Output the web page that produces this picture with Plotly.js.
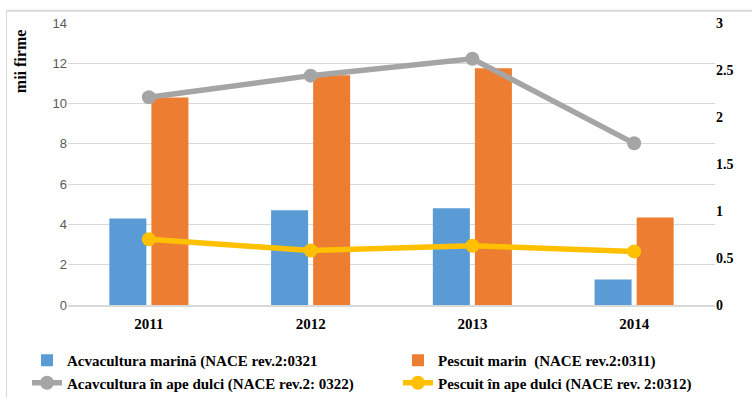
<!DOCTYPE html>
<html>
<head>
<meta charset="utf-8">
<script src="https://cdn.plot.ly/plotly-3.0.1.min.js"></script>
<style>html,body{margin:0;padding:0;background:#fff;}#chart{width:752px;height:401px;}</style>
</head>
<body>
<div id="chart"></div>
<script>
const years = ['2011', '2012', '2013', '2014'];
const acvaculturaMarina = [4.3, 4.7, 4.8, 1.27];
const pescuitMarin = [10.3, 11.4, 11.75, 4.35];
const acvaculturaApeDulci = [2.21, 2.44, 2.62, 1.72];
const pescuitApeDulci = [0.70, 0.58, 0.63, 0.57];
const leftTicks = [0, 2, 4, 6, 8, 10, 12, 14];
const rightTicks = [0, 0.5, 1, 1.5, 2, 2.5, 3];
const rightTickText = ['0', '0.5', '1', '1.5', '2', '2.5', '3'];

const serif = "'Liberation Serif', 'Times New Roman', serif";
const legFont = {family: serif, size: 15, color: '#000', weight: 'bold'};

const traces = [
  {type: 'bar', x: years, y: acvaculturaMarina, name: 'Acvacultura marină (NACE rev.2:0321',
   marker: {color: '#5b9bd5'}, yaxis: 'y', legend: 'legend'},
  {type: 'bar', x: years, y: pescuitMarin, name: 'Pescuit marin  (NACE rev.2:0311)',
   marker: {color: '#ed7d31'}, yaxis: 'y', legend: 'legend2'},
  {type: 'scatter', mode: 'lines+markers', x: years, y: acvaculturaApeDulci,
   name: 'Acavcultura în ape dulci (NACE rev.2: 0322)',
   line: {color: '#a5a5a5', width: 5.5}, marker: {color: '#a5a5a5', size: 14}, yaxis: 'y2',
   legend: 'legend'},
  {type: 'scatter', mode: 'lines+markers', x: years, y: pescuitApeDulci,
   name: 'Pescuit în ape dulci (NACE rev. 2:0312)',
   line: {color: '#ffc000', width: 5.5}, marker: {color: '#ffc000', size: 14}, yaxis: 'y2',
   legend: 'legend2'}
];

const legBase = {orientation: 'v', xref: 'paper', yref: 'container', yanchor: 'bottom', xanchor: 'left',
                 y: 0.005, font: legFont, tracegroupgap: 0, traceorder: 'normal', bgcolor: 'rgba(0,0,0,0)'};

const layout = {
  width: 752, height: 401,
  margin: {l: 68, r: 37, t: 23, b: 96},
  paper_bgcolor: '#fff', plot_bgcolor: '#fff',
  barmode: 'group', bargap: 0.48, bargroupgap: 0.12,
  showlegend: true,
  legend: Object.assign({}, legBase, {x: -0.0634}),
  legend2: Object.assign({}, legBase, {x: 0.510}),
  xaxis: {type: 'category', showgrid: false, showline: true, linecolor: '#d9d9d9', linewidth: 2,
          ticks: '', ticklabelstandoff: 4,
          tickfont: {family: serif, size: 15, color: '#000', weight: 'bold'}},
  yaxis: {range: [0, 14], tickvals: leftTicks, showgrid: true, gridcolor: '#d9d9d9', gridwidth: 1,
          zeroline: false, showline: false, ticks: '',
          tickfont: {family: 'Liberation Sans, Arial, sans-serif', size: 13, color: '#595959'}},
  yaxis2: {range: [0, 3], tickvals: rightTicks, ticktext: rightTickText, overlaying: 'y', side: 'right',
           showgrid: false, zeroline: false, showline: false, ticks: '',
           tickfont: {family: serif, size: 14, color: '#000', weight: 'bold'}},
  annotations: [
    {text: 'mii firme', xref: 'paper', yref: 'paper', x: -0.074, y: 0.865, textangle: -90,
     xanchor: 'center', yanchor: 'middle',
     showarrow: false, font: {family: serif, size: 16, color: '#000', weight: 'bold'}}
  ],
  shapes: [
    {type: 'line', xref: 'paper', yref: 'paper', x0: -0.095, x1: 1.2, y0: 1.043, y1: 1.043,
     line: {color: '#d9d9d9', width: 2}},
    {type: 'line', xref: 'paper', yref: 'paper', x0: -0.095, x1: -0.095, y0: 1.043, y1: -0.33,
     line: {color: '#d9d9d9', width: 1}}
  ]
};

Plotly.newPlot('chart', traces, layout, {displayModeBar: false, staticPlot: true});
</script>
</body>
</html>
